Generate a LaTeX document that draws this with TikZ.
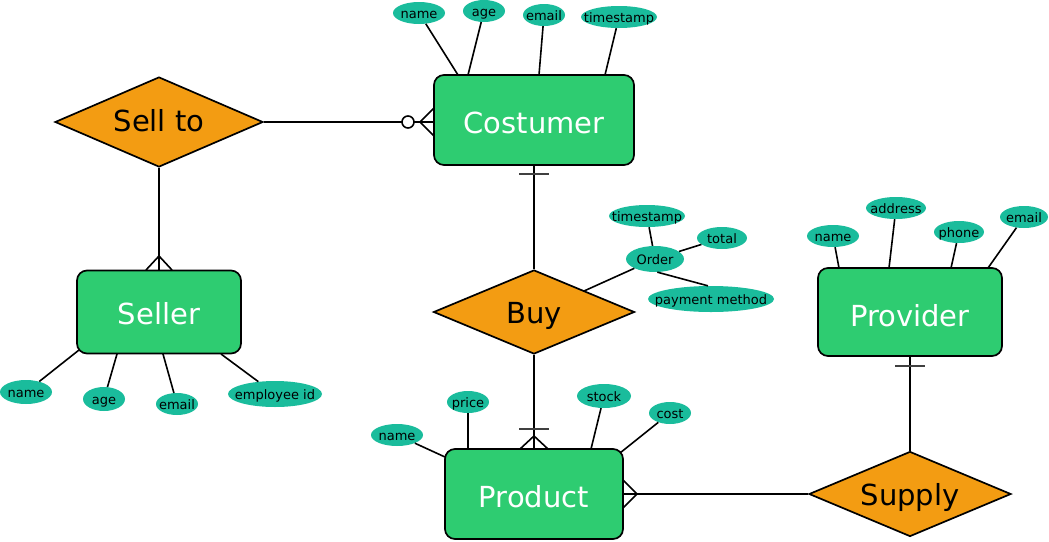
\documentclass[tikz,border=0pt]{standalone}
\usepackage{fontspec}
\setmainfont{DejaVu Sans}
\usetikzlibrary{shapes.geometric}
\definecolor{ent}{HTML}{2ECC71}
\definecolor{rel}{HTML}{F39C12}
\definecolor{att}{HTML}{1ABC9C}
\newcommand{\zw}[1]{\makebox[0pt]{#1}}
\tikzset{
  entity/.style={draw=black, line width=1.7pt, fill=ent, rounded corners=10pt, text=white, font=\fontsize{29}{32}\selectfont, inner sep=0pt, text depth=0pt},
  relation/.style={draw=black, line width=1.7pt, fill=rel, diamond, aspect=2.3, inner sep=0pt, font=\fontsize{29}{32}\selectfont, text depth=0pt},
  attr/.style={ellipse, fill=att, inner sep=0pt, font=\fontsize{13}{15}\selectfont, text height=10pt, text depth=0pt},
  link/.style={line width=1.6pt},
  tickmark/.style={line width=1.6pt}
}
\begin{document}
\begin{tikzpicture}[x=1pt,y=-1pt]
\useasboundingbox (0,0) rectangle (1049,541);
% entities
\node[entity, minimum width=200pt, minimum height=90pt, text height=26pt] (cost) at (534,120) {Costumer};
\node[entity, minimum width=164pt, minimum height=83pt, text height=24pt] (sell) at (159,312) {Seller};
\node[entity, minimum width=184pt, minimum height=88pt, text height=29pt] (prov) at (910,312) {Provider};
\node[entity, minimum width=178pt, minimum height=90pt, text height=27pt] (prod) at (534,494) {Product};
% relations
\node[relation, minimum width=208pt, minimum height=90pt, text height=18pt] (sellto) at (159,122) {Sell to};
\node[relation, minimum width=201pt, minimum height=84pt, text height=22pt] (buy) at (534,312) {Buy};
\node[relation, minimum width=202pt, minimum height=85pt, text height=23pt] (supply) at (910,494) {Supply};
% costumer attributes
\node[attr, minimum width=52pt, minimum height=22pt] (cname) at (419,13) {\zw{name}};
\node[attr, minimum width=42pt, minimum height=22pt] (cage) at (484,11) {\zw{age}};
\node[attr, minimum width=42pt, minimum height=22pt] (cemail) at (544,15) {\zw{email}};
\node[attr, minimum width=76pt, minimum height=22pt] (cts) at (619,17) {\zw{timestamp}};
\draw[link] (cname) -- (458,75);
\draw[link] (cage) -- (468,75);
\draw[link] (cemail) -- (539,75);
\draw[link] (cts) -- (605,75);
% seller attributes
\node[attr, minimum width=52pt, minimum height=24pt] (sname) at (26,392) {\zw{name}};
\node[attr, minimum width=42pt, minimum height=24pt] (sage) at (104,399) {\zw{age}};
\node[attr, minimum width=42pt, minimum height=22pt] (semail) at (177,404) {\zw{email}};
\node[attr, minimum width=94pt, minimum height=26pt] (seid) at (275,394) {\zw{employee id}};
\draw[link] (79,350) -- (sname);
\draw[link] (117,354) -- (sage);
\draw[link] (163,354) -- (semail);
\draw[link] (221,354) -- (seid);
% order attributes
\node[attr, minimum width=58pt, minimum height=26pt] (order) at (655,259) {\zw{Order}};
\node[attr, minimum width=76pt, minimum height=22pt] (ots) at (647,216) {\zw{timestamp}};
\node[attr, minimum width=50pt, minimum height=22pt] (otot) at (722,238) {\zw{total}};
\node[attr, minimum width=126pt, minimum height=26pt] (opay) at (711,299) {\zw{payment method}};
\draw[link] (ots) -- (order);
\draw[link] (otot) -- (order);
\draw[link] (order.-80) -- (opay.103);
\draw[link] (order) -- (584,291);
% product attributes
\node[attr, minimum width=52pt, minimum height=22pt] (pname) at (397,435) {\zw{name}};
\node[attr, minimum width=42pt, minimum height=22pt] (pprice) at (468,402) {\zw{price}};
\node[attr, minimum width=54pt, minimum height=24pt] (pstock) at (604,396) {\zw{stock}};
\node[attr, minimum width=42pt, minimum height=22pt] (pcost) at (670,413) {\zw{cost}};
\draw[link] (pname) -- (445,457);
\draw[link] (pprice) -- (468,449);
\draw[link] (pstock) -- (591,449);
\draw[link] (pcost) -- (620,453);
% provider attributes
\node[attr, minimum width=52pt, minimum height=22pt] (vname) at (833,236) {\zw{name}};
\node[attr, minimum width=60pt, minimum height=22pt] (vaddr) at (896,208) {\zw{address}};
\node[attr, minimum width=50pt, minimum height=22pt] (vphone) at (959,232) {\zw{phone}};
\node[attr, minimum width=48pt, minimum height=22pt] (vemail) at (1024,217) {\zw{email}};
\draw[link] (vname) -- (839,268);
\draw[link] (vaddr) -- (889,268);
\draw[link] (vphone) -- (951,268);
\draw[link] (vemail) -- (988,268);
% connectors
\draw[link] (sellto.east) -- (cost.west |- sellto.east);
\draw[tickmark, fill=white] (408,122) circle (6pt);
\draw[tickmark] (434,108) -- (420,122) -- (434,136);
\draw[link] (sellto.south) -- (sell.north);
\draw[tickmark] (146,270) -- (159,256) -- (172,270);
\draw[link] (cost.south) -- (buy.north);
\draw[tickmark, black!75] (519,174) -- (549,174);
\draw[link] (buy.south) -- (prod.north);
\draw[tickmark, black!75] (519,429) -- (549,429);
\draw[tickmark] (520,449) -- (534,436) -- (548,449);
\draw[link] (supply.west) -- (prod.east);
\draw[tickmark] (623,480) -- (637,494) -- (623,508);
\draw[link] (prov.south) -- (supply.north);
\draw[tickmark, black!75] (895,366) -- (925,366);
\end{tikzpicture}
\end{document}
